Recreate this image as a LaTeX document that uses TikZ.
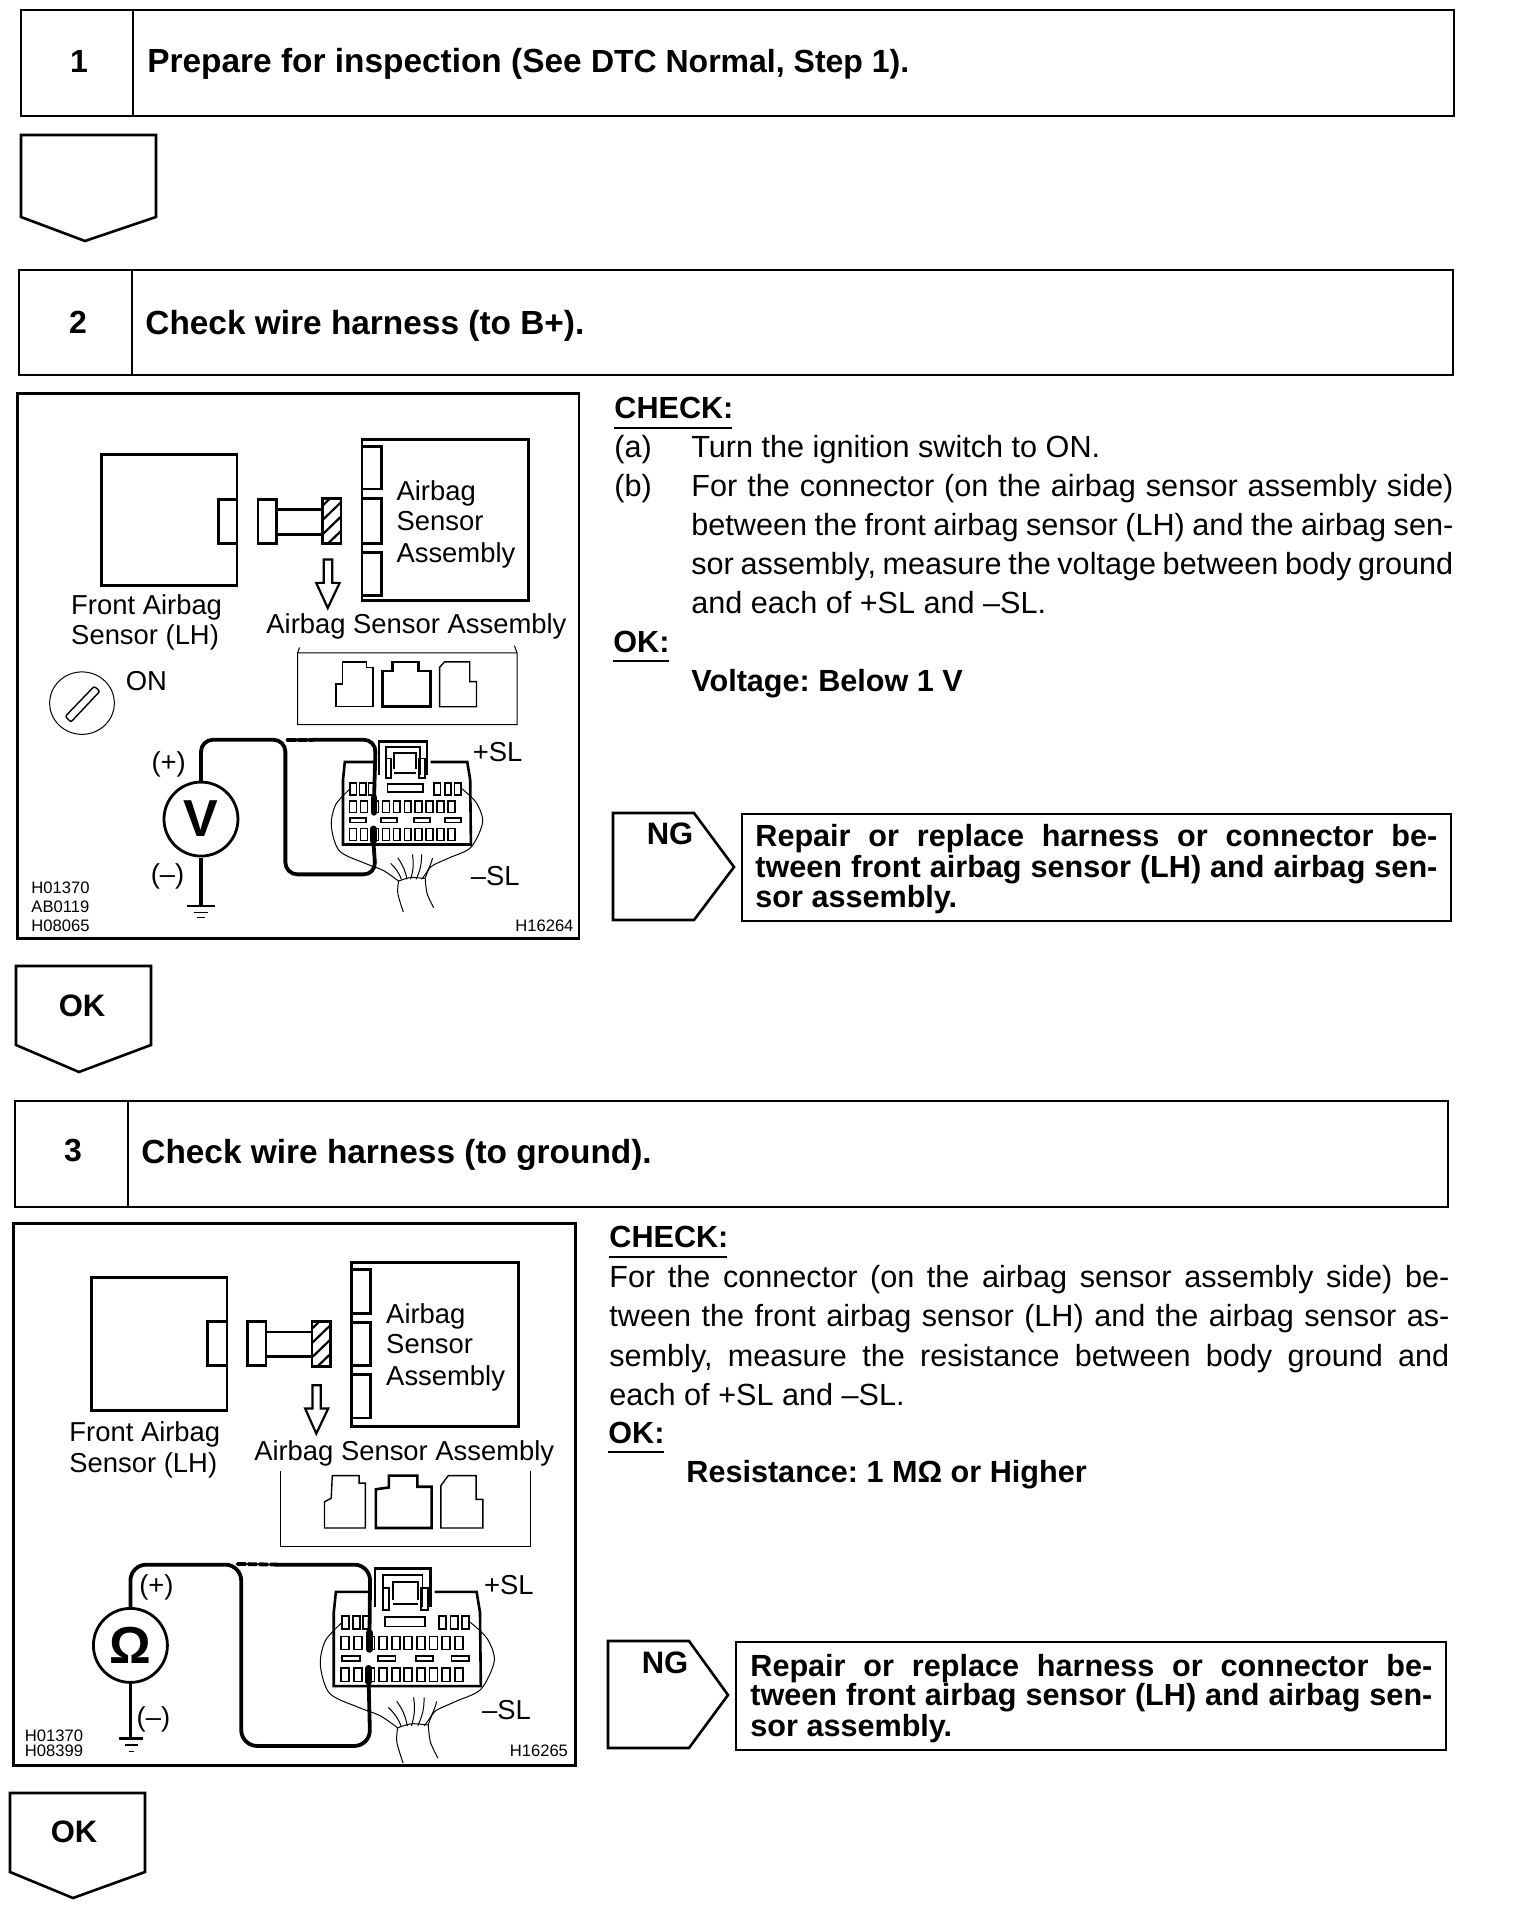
\documentclass[tikz,border=0pt]{standalone}
\usepackage{fontspec}
\setmainfont{Liberation Sans}
\newcommand{\harnessplug}[1]{
  \draw[plugline] (985,1050) -- (905,1050) -- (900,1100) -- (900,1282) -- (1250,1282) -- (1248,1100) -- (1240,1050) -- (1140,1050);
  \draw[plugline] (998,1086) -- (998,992) -- (1130,992) -- (1130,1086);
  \draw[pinline] (1017,1086) -- (1017,1008) -- (1111,1008) -- (1111,1086);
  \draw[pinline] (1040,1070) -- (1040,1025) -- (1100,1025) -- (1100,1070);
  \draw[pinline] (1040,1080) -- (1100,1080);
  \draw[pinline] (1018,1040) rectangle (1032,1095);
  \draw[pinline] (1108,1040) rectangle (1125,1095);
  \foreach \px in {920,945,970,1150,1178,1205} {
    \draw[pinline] (\px,1110) rectangle ++(17,32);
  }
  \draw[pinline] (1022,1112) rectangle (1118,1135);
  \foreach \px in {918,948,...,1208} {
    \draw[pinline] (\px,1160) rectangle ++(19,32);
    \draw[pinline] (\px,1237) rectangle ++(19,34);
  }
  \foreach \px in {920,1005,1095,1180} {
    \draw[pinline] (\px,1208) rectangle ++(42,12);
  }
  \draw[thinline] plot[smooth] coordinates {(920,1125) (880,1170) (868,1230) (890,1300) (960,1335) (1010,1355) (1052,1385)};
  \draw[thinline] plot[smooth] coordinates {(1225,1125) (1265,1165) (1282,1220) (1250,1290) (1190,1320) (1140,1345) (1125,1378)};
  \draw[thinline] plot[smooth] coordinates {(1052,1385) (1085,1375) (1125,1378)};
  \draw[thinline] plot[smooth] coordinates {(1052,1385) (1050,1420) (1065,1472)};
  \draw[thinline] plot[smooth] coordinates {(1125,1378) (1130,1420) (1148,1460)};
  \foreach \wx/\wy/\wz in {1030/1335/1060, 1050/1320/1075, 1090/1310/1085, 1115/1310/1100, 1145/1320/1115} {
    \draw[thinline] (\wx,\wy) to[bend left=12] (\wz,1380);
  }
  \draw[wire, line width=3.2pt] (985,1150) -- (985,1192);
  \draw[wire, line width=3.2pt] (983,1238) -- (983,1272);
  \coordinate (#1top) at (985,1150);
  \coordinate (#1low) at (983,1272);
}
\newcommand{\hatchbox}[2]{
  \begin{scope}
  \clip (#1,#2) rectangle ++(50,125);
  \foreach \hy in {-20,20,...,180} {
    \draw[medium] (#1,#2+\hy) -- ++(50,-50);
  }
  \end{scope}
  \draw[plugline] (#1,#2) rectangle ++(50,125);
}
\begin{document}
\begin{tikzpicture}[
    x=0.5pt, y=-0.5pt,
    heavy/.style={draw=black, line width=1.4pt},
    medium/.style={draw=black, line width=1.1pt},
    thinline/.style={draw=black, line width=0.5pt},
    pinline/.style={draw=black, line width=0.9pt},
    viewline/.style={draw=black, line width=0.7pt},
    plugline/.style={draw=black, line width=1.3pt},
    wire/.style={draw=black, line width=1.9pt, line cap=round},
    arrowbox/.style={draw=black, line width=1.3pt, fill=white},
    headtext/.style={anchor=base west, inner sep=0pt, font=\fontsize{16.7}{20}\selectfont\bfseries},
    numtext/.style={anchor=center, font=\fontsize{16}{20}\selectfont\bfseries},
    bodytext/.style={anchor=base west, inner sep=0pt, font=\fontsize{15.3}{19}\selectfont\frenchspacing},
    boldtext/.style={anchor=base west, inner sep=0pt, font=\fontsize{15.3}{19}\selectfont\bfseries\frenchspacing},
    okntext/.style={anchor=center, font=\fontsize{15.5}{19}\selectfont\bfseries},
    figtext/.style={anchor=base west, inner sep=0pt, font=\fontsize{13.7}{16}\selectfont},
    codetext/.style={anchor=base west, inner sep=0pt, font=\fontsize{8.3}{10}\selectfont},
    meter/.style={circle, heavy, minimum size=37pt, inner sep=0pt, fill=white}
]
\useasboundingbox (0,0) rectangle (1520,1910);

% step 1
\draw[heavy] (21,10) rectangle (1454,116);
\draw[heavy] (133,10) -- (133,116);
\node[numtext] (numone) at (79,61) {1};
\node[headtext] (headone) at (147,73) {Prepare for inspection (See {\fontsize{16}{20}\selectfont DTC Normal, Step 1).}};
\draw[arrowbox] (21,135) -- (156,135) -- (156,217) -- (85,241) -- (21,217) -- cycle;

% step 2
\draw[heavy] (19,270) rectangle (1453,375);
\draw[heavy] (132,270) -- (132,375);
\node[numtext] (numtwo) at (78,322) {2};
\node[headtext] (headtwo) at (145,334) {Check wire harness (to B+).};

\begin{scope}[shift={(9.5,389)}, xscale=0.3718, yscale=0.359]
\draw[heavy] (22,12) rectangle (1532,1530);
\draw[heavy] (248,182) rectangle (612,548);
\draw[plugline] (562,308) rectangle (612,430);
\draw[plugline] (668,308) rectangle (718,430);
\draw[plugline] (718,335) -- (842,335) (718,405) -- (842,405);
\hatchbox{842}{305}
\draw[medium] (845,475) -- (868,475) -- (868,540) -- (888,540) -- (856,610) -- (825,540) -- (845,540) -- cycle;
\draw[heavy] (948,140) rectangle (1395,590);
\draw[plugline] (948,160) -- (1000,160) -- (1000,278) -- (948,278);
\draw[plugline] (948,305) -- (1000,305) -- (1000,430) -- (948,430);
\draw[plugline] (948,455) -- (1000,455) -- (1000,575) -- (948,575);
\node[figtext] (sensorAa) at (1040,310) {Airbag};
\node[figtext] (sensorAb) at (1040,395) {Sensor};
\node[figtext] (sensorAc) at (1040,482) {Assembly};
\node[figtext] (frontAa) at (165,628) {Front Airbag};
\node[figtext] (frontAb) at (165,712) {Sensor (LH)};
\node[figtext] (viewA) at (690,682) {Airbag Sensor Assembly};
\draw[thinline] (780,720) -- (775,735) -- (775,935) -- (1365,935) -- (1365,735) -- (1358,715) (775,735) -- (1365,735);
\draw[viewline] (895,760) -- (960,760) -- (960,775) -- (978,775) -- (978,885) -- (878,885) -- (878,822) -- (895,822) -- cycle;
\draw[plugline] (1003,885) -- (1003,785) -- (1030,785) -- (1030,760) -- (1100,760) -- (1100,785) -- (1132,785) -- (1132,885) -- cycle;
\draw[viewline] (1157,885) -- (1157,775) -- (1170,760) -- (1238,760) -- (1238,815) -- (1256,815) -- (1256,885) -- cycle;
\draw[thinline] (195,875) circle (87);
\draw[viewline, rounded corners=1pt] (150,912) -- (228,828) -- (243,842) -- (165,928) -- cycle;
\node[figtext] (onlabel) at (312,840) {ON};
\begin{scope}[shift={(897,1039)}, xscale=0.983, yscale=0.99, shift={(-900,-1050)}]
\harnessplug{plugA}
\end{scope}
\node[meter, font=\fontsize{26}{26}\selectfont\bfseries] (vmeter) at (515,1198) {V};
\draw[wire, rounded corners=6pt] (vmeter.north) -- (515,977) -- (742,977) -- (742,1352) -- (985,1352) -- (plugAlow);
\draw[wire, dashed, dash pattern=on 4pt off 1.5pt] (748,977) -- (815,977);
\draw[wire, rounded corners=6pt] (815,977) -- (985,977) -- (plugAtop);
\coordinate (groundA) at (515,1440);
\draw[wire, line cap=butt] (vmeter.south) -- (groundA);
\draw[plugline] (478,1440) -- (552,1440);
\draw[viewline] (495,1458) -- (535,1458) (505,1472) -- (525,1472);
\node[figtext, anchor=center] (plusA) at (428,1047) {(+)};
\node[figtext, anchor=center] (minusA) at (425,1358) {(–)};
\node[figtext] (slplusA) at (1245,1037) {+SL};
\node[figtext] (slminusA) at (1240,1382) {–SL};
\node[codetext] (codeAa) at (58,1405) {H01370};
\node[codetext] (codeAb) at (58,1459) {AB0119};
\node[codetext] (codeAc) at (58,1512) {H08065};
\node[codetext, anchor=base east] (codeAd) at (1518,1512) {H16264};
\end{scope}

\node[boldtext] (checkA) at (614,418) {CHECK:};
\draw[viewline] (614,428) -- (732,428);
\node[bodytext] (itemAa) at (614,457) {(a)};
\node[bodytext] (lineAa) at (691,457) {Turn the ignition switch to ON.};
\node[bodytext] (itemAb) at (614,496) {(b)};
\node[bodytext] (lineAb) at (691,496) {\hbox to 381pt{For the connector (on the airbag sensor assembly side)}};
\node[bodytext] (lineAc) at (691,535) {\hbox to 381pt{between the front airbag sensor (LH) and the airbag sen-}};
\node[bodytext] (lineAd) at (691,574) {\hbox to 381pt{sor assembly, measure the voltage between body ground}};
\node[bodytext] (lineAe) at (691,613) {and each of +SL and –SL.};
\node[boldtext] (okA) at (613,652) {OK:};
\draw[viewline] (613,661) -- (669,661);
\node[boldtext] (valueA) at (691,691) {Voltage: Below 1 V};

\draw[arrowbox] (613,813) -- (694,813) -- (734,867) -- (694,920) -- (613,920) -- cycle;
\node[okntext] (ngA) at (670,834) {NG};
\draw[heavy] (742,814) rectangle (1451,921);
\node[boldtext] (repairAa) at (755,846) {\hbox to 341pt{Repair or replace harness or connector be-}};
\node[boldtext] (repairAb) at (755,877) {\hbox to 341pt{tween front airbag sensor (LH) and airbag sen-}};
\node[boldtext] (repairAc) at (755,907) {sor assembly.};

\draw[arrowbox] (16,966) -- (151,966) -- (151,1045) -- (79,1072) -- (16,1045) -- cycle;
\node[okntext] (okdownA) at (82,1006) {OK};

% step 3
\draw[heavy] (15,1101) rectangle (1448,1207);
\draw[heavy] (128,1101) -- (128,1207);
\node[numtext] (numthree) at (73,1150) {3};
\node[headtext] (headthree) at (141,1163) {Check wire harness (to ground).};

\begin{scope}[shift={(4,1220)}, xscale=0.3718, yscale=0.359]
\draw[heavy] (25,10) rectangle (1537,1519);
\draw[heavy] (235,160) rectangle (600,530);
\draw[plugline] (548,283) rectangle (600,405);
\draw[plugline] (655,283) rectangle (705,405);
\draw[plugline] (705,312) -- (828,312) (705,380) -- (828,380);
\hatchbox{828}{283}
\draw[medium] (830,460) -- (852,460) -- (852,525) -- (872,525) -- (840,595) -- (810,525) -- (830,525) -- cycle;
\draw[heavy] (935,118) rectangle (1383,575);
\draw[plugline] (935,138) -- (985,138) -- (985,260) -- (935,260);
\draw[plugline] (935,285) -- (985,285) -- (985,405) -- (935,405);
\draw[plugline] (935,430) -- (985,430) -- (985,552) -- (935,552);
\node[figtext] (sensorBa) at (1027,288) {Airbag};
\node[figtext] (sensorBb) at (1027,373) {Sensor};
\node[figtext] (sensorBc) at (1027,460) {Assembly};
\node[figtext] (frontBa) at (175,617) {Front Airbag};
\node[figtext] (frontBb) at (175,703) {Sensor (LH)};
\node[figtext] (viewB) at (672,670) {Airbag Sensor Assembly};
\draw[thinline] (743,700) -- (743,910) -- (1415,910) -- (1415,700);
\draw[viewline] (883,712) -- (955,712) -- (955,733) -- (972,733) -- (972,858) -- (862,858) -- (862,785) -- (880,775) -- cycle;
\draw[plugline] (1000,858) -- (1000,750) -- (1035,745) -- (1035,712) -- (1112,712) -- (1112,743) -- (1150,743) -- (1150,858) -- cycle;
\draw[viewline] (1175,858) -- (1175,740) -- (1195,712) -- (1270,712) -- (1270,778) -- (1288,778) -- (1288,858) -- cycle;
\begin{scope}[shift={(887,1036)}, scale=1.13, shift={(-900,-1050)}]
\harnessplug{plugB}
\end{scope}
\node[meter, font=\fontsize{26}{26}\selectfont\bfseries] (ohmmeter) at (340,1185) {Ω};
\draw[wire, rounded corners=8pt] (ohmmeter.north) -- (340,960) -- (638,960) -- (638,1465) -- (985,1465) -- (plugBlow);
\draw[wire, dashed, dash pattern=on 4pt off 1.5pt] (628,958) -- (735,960);
\draw[wire, rounded corners=8pt] (735,960) -- (985,960) -- (plugBtop);
\coordinate (groundB) at (340,1445);
\draw[wire, line cap=butt] (ohmmeter.south) -- (groundB);
\draw[plugline] (308,1445) -- (375,1445);
\draw[viewline] (325,1462) -- (360,1462) (335,1481) -- (350,1481);
\node[figtext, anchor=center] (plusB) at (410,1022) {(+)};
\node[figtext, anchor=center] (minusB) at (402,1390) {(–)};
\node[figtext] (slplusB) at (1290,1042) {+SL};
\node[figtext] (slminusB) at (1285,1390) {–SL};
\node[codetext] (codeBa) at (55,1453) {H01370};
\node[codetext] (codeBb) at (55,1495) {H08399};
\node[codetext, anchor=base east] (codeBc) at (1518,1495) {H16265};
\end{scope}

\node[boldtext] (checkB) at (609,1247) {CHECK:};
\draw[viewline] (609,1257) -- (727,1257);
\node[bodytext] (lineBa) at (609,1287) {\hbox to 420pt{For the connector (on the airbag sensor assembly side) be-}};
\node[bodytext] (lineBb) at (609,1326) {\hbox to 420pt{tween the front airbag sensor (LH) and the airbag sensor as-}};
\node[bodytext] (lineBc) at (609,1366) {\hbox to 420pt{sembly, measure the resistance between body ground and}};
\node[bodytext] (lineBd) at (609,1405) {each of +SL and –SL.};
\node[boldtext] (okB) at (608,1443) {OK:};
\draw[viewline] (608,1452) -- (664,1452);
\node[boldtext] (valueB) at (686,1482) {Resistance: 1 MΩ or Higher};

\draw[arrowbox] (608,1641) -- (689,1641) -- (728,1695) -- (689,1748) -- (608,1748) -- cycle;
\node[okntext] (ngB) at (665,1663) {NG};
\draw[heavy] (736,1642) rectangle (1446,1750);
\node[boldtext] (repairBa) at (750,1676) {\hbox to 341pt{Repair or replace harness or connector be-}};
\node[boldtext] (repairBb) at (750,1705) {\hbox to 341pt{tween front airbag sensor (LH) and airbag sen-}};
\node[boldtext] (repairBc) at (750,1736) {sor assembly.};

\draw[arrowbox] (10,1793) -- (145,1793) -- (145,1872) -- (73,1898) -- (10,1872) -- cycle;
\node[okntext] (okdownB) at (74,1832) {OK};
\end{tikzpicture}
\end{document}
